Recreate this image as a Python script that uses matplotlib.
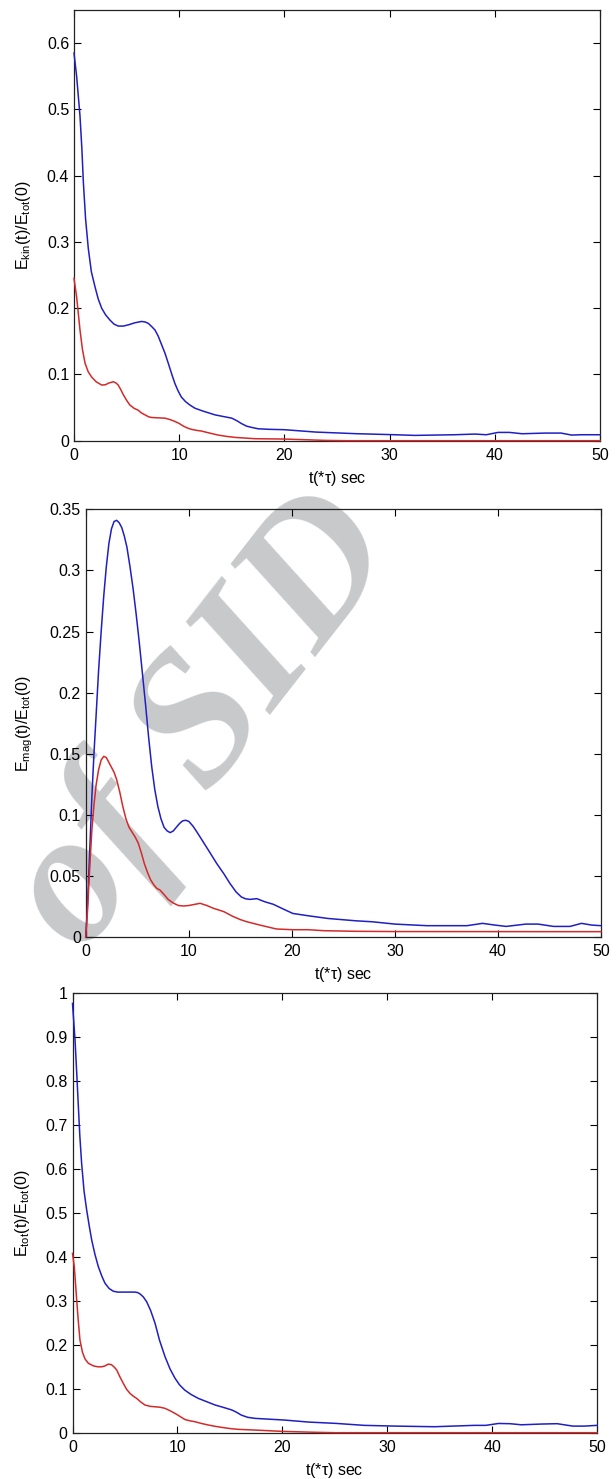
import matplotlib
matplotlib.use('Agg')
import matplotlib.pyplot as plt

plt.rcParams['font.family'] = ['Liberation Sans', 'DejaVu Sans']
plt.rcParams['mathtext.fontset'] = 'custom'
plt.rcParams['mathtext.rm'] = 'Liberation Sans'
plt.rcParams['mathtext.it'] = 'Liberation Sans:italic'

# kinetic energy
t_kin_b = [0, 0.25, 0.57, 0.75, 0.89, 1.1, 1.36, 1.65, 2.0, 2.3, 2.63, 3.0, 3.42, 3.8,
           4.2, 4.7, 5.2, 5.8, 6.43, 6.8, 7.07, 7.4, 7.7, 8.0, 8.3, 8.65, 9.0, 9.3,
           9.6, 9.9, 10.2, 10.6, 11.0, 11.5, 12.2, 13.4, 14.2, 15.0, 15.5, 15.9,
           16.4, 16.9, 17.5, 18.5, 20.0, 23.0, 26.8, 30.5, 32.4, 36.2, 38.1, 39.2,
           40.3, 41.4, 42.6, 44.8, 46.3, 47.3, 48.2, 50]
e_kin_b = [0.585, 0.55, 0.49, 0.44, 0.39, 0.335, 0.29, 0.255, 0.232, 0.214, 0.20,
           0.19, 0.182, 0.176, 0.173, 0.173, 0.175, 0.178, 0.180, 0.179, 0.177,
           0.172, 0.167, 0.158, 0.146, 0.132, 0.115, 0.100, 0.086, 0.075, 0.066,
           0.059, 0.054, 0.049, 0.045, 0.039, 0.0365, 0.034, 0.030, 0.026, 0.022,
           0.020, 0.018, 0.0172, 0.0166, 0.013, 0.0106, 0.009, 0.008, 0.009, 0.010,
           0.009, 0.0125, 0.0125, 0.0105, 0.0115, 0.0115, 0.0085, 0.009, 0.009]
t_kin_r = [0, 0.25, 0.57, 0.8, 1.05, 1.35, 1.68, 2.1, 2.63, 3.0, 3.3, 3.74, 4.0, 4.2,
           4.45, 4.7, 5.0, 5.3, 5.7, 6.1, 6.4, 6.75, 7.1, 7.4, 8.0, 8.65, 9.1, 9.6,
           10.0, 10.4, 10.8, 11.2, 11.7, 12.1, 12.9, 13.7, 14.5, 15.3, 17.2, 20.0,
           23.8, 26.0, 50]
e_kin_r = [0.245, 0.217, 0.167, 0.138, 0.117, 0.104, 0.096, 0.089, 0.084, 0.0845,
           0.087, 0.089, 0.087, 0.084, 0.077, 0.069, 0.061, 0.054, 0.049, 0.046,
           0.042, 0.039, 0.036, 0.035, 0.0345, 0.034, 0.032, 0.029, 0.026, 0.022,
           0.019, 0.017, 0.0155, 0.0146, 0.0115, 0.0085, 0.0065, 0.005, 0.003,
           0.0025, 0.0005, 0.0, 0.0]

# magnetic energy
t_mag_b = [0, 0.15, 0.3, 0.45, 0.6, 0.8, 1.0, 1.25, 1.5, 1.75, 2.0, 2.25, 2.5, 2.75,
           3.0, 3.25, 3.5, 3.75, 4.0, 4.3, 4.6, 4.9, 5.2, 5.5, 5.8, 6.1, 6.4, 6.7,
           7.0, 7.3, 7.6, 7.9, 8.2, 8.5, 8.8, 9.1, 9.4, 9.7, 10.0, 10.4, 10.8, 11.4,
           12.0, 12.7, 13.4, 14.0, 14.6, 15.1, 15.5, 15.95, 16.6, 17.4, 18.2, 19.2,
           20.1, 21.6, 23.5, 26.2, 27.8, 30.0, 33.1, 37.0, 38.5, 39.7, 40.8, 42.7,
           43.9, 45.4, 47.0, 48.1, 49.1, 50]
e_mag_b = [0, 0.022, 0.052, 0.083, 0.115, 0.150, 0.180, 0.218, 0.250, 0.279, 0.303,
           0.322, 0.334, 0.340, 0.341, 0.339, 0.335, 0.328, 0.319, 0.303, 0.285,
           0.264, 0.241, 0.216, 0.191, 0.164, 0.140, 0.121, 0.107, 0.097, 0.090,
           0.087, 0.0856, 0.087, 0.090, 0.093, 0.0952, 0.0957, 0.0948, 0.091, 0.086,
           0.078, 0.070, 0.0605, 0.052, 0.044, 0.037, 0.033, 0.0315, 0.031, 0.0316,
           0.029, 0.027, 0.023, 0.0195, 0.0176, 0.0154, 0.0135, 0.0127, 0.0108,
           0.0095, 0.0095, 0.0114, 0.010, 0.0089, 0.0108, 0.0108, 0.0089, 0.0089,
           0.0114, 0.010, 0.0095]
t_mag_r = [0, 0.15, 0.3, 0.45, 0.6, 0.8, 1.0, 1.25, 1.5, 1.75, 2.0, 2.25, 2.5, 2.75,
           3.0, 3.3, 3.6, 3.9, 4.2, 4.5, 4.8, 5.1, 5.4, 5.7, 6.0, 6.3, 6.6, 6.9, 7.2,
           7.6, 8.0, 8.5, 9.0, 9.5, 10.0, 10.5, 11.1, 11.75, 12.4, 13.4, 14.3, 15.0,
           15.6, 16.9, 18.5, 20.1, 21.6, 23.1, 26.2, 30.0, 50]
e_mag_r = [0, 0.018, 0.042, 0.066, 0.088, 0.108, 0.124, 0.137, 0.145, 0.148, 0.147,
           0.143, 0.139, 0.135, 0.129, 0.119, 0.107, 0.097, 0.090, 0.086, 0.082,
           0.077, 0.069, 0.060, 0.053, 0.047, 0.043, 0.040, 0.0387, 0.035, 0.031,
           0.028, 0.026, 0.0256, 0.026, 0.0268, 0.0278, 0.026, 0.0237, 0.021, 0.017,
           0.0145, 0.0128, 0.010, 0.0068, 0.0062, 0.0062, 0.0054, 0.0049, 0.0047,
           0.0046]

# total energy
t_tot_b = [0, 0.24, 0.4, 0.56, 0.7, 0.87, 1.1, 1.35, 1.6, 1.83, 2.15, 2.46, 2.8, 3.1,
           3.5, 3.89, 4.3, 4.69, 5.3, 5.96, 6.2, 6.43, 6.75, 7.07, 7.45, 7.87, 8.3,
           8.82, 9.3, 9.77, 10.2, 10.7, 11.3, 12.0, 12.8, 13.6, 14.4, 15.2, 15.6,
           16.1, 16.7, 17.4, 20.2, 22.5, 25.1, 27.8, 30.8, 34.5, 38.3, 39.4, 40.6,
           41.7, 42.8, 44.7, 46.2, 47.7, 48.8, 50]
e_tot_b = [0.977, 0.894, 0.82, 0.742, 0.675, 0.613, 0.55, 0.507, 0.47, 0.4385, 0.405,
           0.378, 0.356, 0.34, 0.328, 0.322, 0.32, 0.32, 0.32, 0.32, 0.319, 0.316,
           0.309, 0.298, 0.278, 0.249, 0.21, 0.173, 0.145, 0.124, 0.109, 0.097,
           0.087, 0.078, 0.0705, 0.063, 0.0575, 0.0516, 0.047, 0.040, 0.035, 0.0326,
           0.0288, 0.0242, 0.0212, 0.0167, 0.015, 0.0136, 0.0167, 0.0167, 0.021,
           0.0205, 0.018, 0.0197, 0.0205, 0.015, 0.015, 0.0167]
t_tot_r = [0, 0.17, 0.4, 0.55, 0.71, 0.95, 1.19, 1.51, 2.0, 2.4, 2.78, 3.1, 3.4, 3.7,
           3.95, 4.21, 4.5, 4.85, 5.15, 5.48, 5.8, 6.12, 6.5, 6.91, 7.4, 7.86, 8.35,
           8.82, 9.3, 9.77, 10.25, 10.72, 11.2, 11.67, 12.3, 12.95, 13.6, 14.22, 15.0,
           15.8, 17.4, 20.0, 23.0, 25.0, 50]
e_tot_r = [0.408, 0.378, 0.302, 0.255, 0.211, 0.183, 0.168, 0.158, 0.152, 0.150,
           0.150, 0.152, 0.156, 0.155, 0.150, 0.143, 0.128, 0.112, 0.099, 0.0895,
           0.083, 0.078, 0.070, 0.063, 0.060, 0.059, 0.058, 0.0554, 0.050, 0.044,
           0.037, 0.030, 0.027, 0.025, 0.021, 0.0175, 0.0145, 0.0121, 0.0095, 0.0076,
           0.006, 0.003, 0.001, 0.0, 0.0]

ylabels = [r'$\mathregular{E_{kin}(t)/E_{tot}(0)}$',
           r'$\mathregular{E_{mag}(t)/E_{tot}(0)}$',
           r'$\mathregular{E_{tot}(t)/E_{tot}(0)}$']
yticks = [[0, 0.1, 0.2, 0.3, 0.4, 0.5, 0.6],
          [0, 0.05, 0.1, 0.15, 0.2, 0.25, 0.3, 0.35],
          [0, 0.1, 0.2, 0.3, 0.4, 0.5, 0.6, 0.7, 0.8, 0.9, 1]]
ytop = [0.65, 0.35, 1.0]

W, H = 616, 1479
boxes = [(74, 10, 600, 440.7), (85.7, 509.3, 601, 937.3), (72.5, 993.3, 597, 1432.7)]
ylab_x = [33, 35, 32]

fig = plt.figure(figsize=(W / 100, H / 100), dpi=100)

# watermark behind the plots
fig.text(205 / W, 1 - 724 / H, 'of SID', fontsize=135,
         family='Liberation Serif', fontweight='bold', fontstyle='italic',
         color='#c8c9cb', rotation=52, ha='center', va='center',
         rotation_mode='anchor', zorder=-5)

series = [(t_kin_b, e_kin_b, t_kin_r, e_kin_r),
          (t_mag_b, e_mag_b, t_mag_r, e_mag_r),
          (t_tot_b, e_tot_b, t_tot_r, e_tot_r)]

for i, (tb, eb, tr, er) in enumerate(series):
    x0, y0, x1, y1 = boxes[i]
    ax = fig.add_axes([x0 / W, 1 - y1 / H, (x1 - x0) / W, (y1 - y0) / H])
    ax.patch.set_alpha(0)
    ax.plot(tb, eb, color='#1f1fc4', lw=1.1, zorder=3, clip_on=False)
    ax.plot(tr, er, color='#d42a2a', lw=1.1, zorder=3, clip_on=False)
    ax.set_xlim(0, 50)
    ax.set_ylim(0, ytop[i])
    ax.set_xticks([0, 10, 20, 30, 40, 50])
    ax.set_yticks(yticks[i])
    ax.set_yticklabels([('%g' % v) for v in yticks[i]])
    ax.tick_params(direction='in', length=5, width=0.8, top=True, right=True,
                   labelsize=11.5, colors='black')
    ax.tick_params(axis='x', pad=5)
    ax.tick_params(axis='y', pad=3.5)
    for s in ax.spines.values():
        s.set_linewidth(0.9)
        s.set_color('#222222')
    ax.set_xlabel(r't(*$\mathregular{\tau}$) sec', fontsize=11.5)
    ax.xaxis.set_label_coords(0.5, -28 / (y1 - y0))
    ax.set_ylabel(ylabels[i], fontsize=11.5)
    ax.yaxis.set_label_coords((ylab_x[i] - x0) / (x1 - x0), 0.5)

fig.savefig('out.png', dpi=100)
